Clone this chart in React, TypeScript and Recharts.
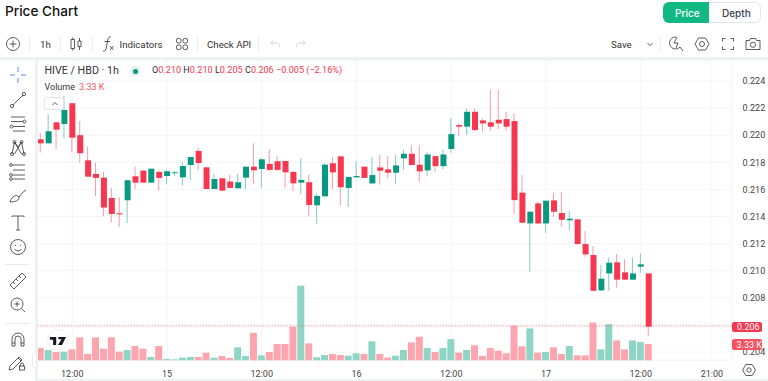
import { ComposedChart, Bar, Cell, XAxis, YAxis, CartesianGrid, ReferenceLine } from "recharts";
import type { CSSProperties, ReactNode } from "react";

// hourly candles, first one is 14th 08:00
const opens = [
  0.2197, 0.2194, 0.22095, 0.22083, 0.22236, 0.22, 0.21815, 0.21714, 0.21687, 0.21537, 0.21424, 0.2152, 0.21697,
  0.21739, 0.2165, 0.21729, 0.21699, 0.21719, 0.21689, 0.2178, 0.21884, 0.21763, 0.21603, 0.21682, 0.21658, 0.21608,
  0.21687, 0.21768, 0.21751, 0.21788, 0.21808, 0.2181, 0.21729, 0.2165, 0.21653, 0.21483, 0.21549, 0.21793, 0.21844,
  0.21611, 0.21689, 0.21768, 0.21644, 0.21762, 0.21748, 0.21723, 0.21829, 0.21863, 0.21782, 0.2174, 0.21846, 0.21772,
  0.21898, 0.22075, 0.22063, 0.22173, 0.22109, 0.22095, 0.22114, 0.22119, 0.22104, 0.21576, 0.21349, 0.21497, 0.21349,
  0.21519, 0.21426, 0.21372, 0.21379, 0.21197, 0.21116, 0.20855, 0.2098, 0.21062, 0.20988, 0.20934, 0.2103, 0.2098,
];
const closes = [
  0.2194, 0.22029, 0.22041, 0.22186, 0.21982, 0.21867, 0.21694, 0.21685, 0.21466, 0.21419, 0.21416, 0.21667, 0.2165,
  0.2165, 0.21753, 0.21685, 0.21734, 0.21726, 0.21773, 0.21839, 0.21795, 0.21603, 0.21677, 0.21591, 0.21611, 0.21653,
  0.21768, 0.21741, 0.21822, 0.21744, 0.21744, 0.21726, 0.21645, 0.2167, 0.21485, 0.21552, 0.21783, 0.21726, 0.21616,
  0.21692, 0.21699, 0.21685, 0.21706, 0.21738, 0.21723, 0.21777, 0.21863, 0.2178, 0.21733, 0.21858, 0.21772, 0.21858,
  0.22008, 0.22063, 0.22173, 0.22038, 0.22087, 0.22063, 0.22087, 0.22063, 0.21521, 0.21354, 0.21435, 0.21349, 0.21517,
  0.21435, 0.21376, 0.21384, 0.21197, 0.21121, 0.20852, 0.20941, 0.21059, 0.20934, 0.20934, 0.2098, 0.21047, 0.20587,
];
const highs = [
  0.22019, 0.22157, 0.221, 0.22292, 0.22236, 0.22105, 0.21916, 0.218, 0.21729, 0.21613, 0.21544, 0.21667, 0.21771,
  0.21739, 0.21753, 0.21744, 0.21739, 0.21736, 0.218, 0.21839, 0.21908, 0.21763, 0.21714, 0.21682, 0.21709, 0.21714,
  0.21768, 0.2194, 0.2183, 0.21899, 0.21849, 0.2181, 0.21736, 0.21832, 0.21709, 0.21571, 0.21793, 0.21839, 0.21844,
  0.21692, 0.2181, 0.21768, 0.21836, 0.21858, 0.21849, 0.21858, 0.21895, 0.21925, 0.21925, 0.21878, 0.21846, 0.21895,
  0.22127, 0.22087, 0.22198, 0.22198, 0.22124, 0.22338, 0.22338, 0.22173, 0.22161, 0.21706, 0.2144, 0.21509, 0.21517,
  0.21576, 0.21581, 0.2144, 0.21379, 0.21293, 0.21182, 0.21042, 0.21098, 0.21123, 0.21084, 0.21098, 0.21128, 0.2098,
];
const lows = [
  0.21872, 0.2194, 0.21896, 0.21977, 0.21872, 0.21798, 0.21694, 0.21549, 0.21402, 0.21355, 0.21323, 0.21352, 0.21603,
  0.2165, 0.2165, 0.21594, 0.21638, 0.21702, 0.21628, 0.2167, 0.21744, 0.21603, 0.21603, 0.21591, 0.21611, 0.21608,
  0.21603, 0.21638, 0.21613, 0.21736, 0.21736, 0.21613, 0.21589, 0.21564, 0.21402, 0.21348, 0.21549, 0.21603, 0.21483,
  0.2147, 0.21689, 0.21685, 0.21644, 0.21637, 0.21684, 0.21642, 0.21748, 0.2178, 0.21654, 0.21699, 0.21728, 0.2175,
  0.21871, 0.21996, 0.22001, 0.22033, 0.22021, 0.22033, 0.22045, 0.22033, 0.21418, 0.21354, 0.20993, 0.21349, 0.21281,
  0.21399, 0.21325, 0.213, 0.2119, 0.21103, 0.20852, 0.20848, 0.20852, 0.20877, 0.20934, 0.20934, 0.20985, 0.2052,
];
// volume in thousands
const volumes = [
  2.52, 2.11, 1.7, 1.77, 2.24, 4.69, 1.29, 4.69, 2.38, 4.69, 1.77, 2.11, 2.92, 2.38, 0.68, 2.92, 0.27, 0.2, 0.54, 0.68,
  0.68, 1.56, 0.54, 0.88, 0.48, 2.65, 0.88, 5.64, 1.02, 1.7, 3.33, 3.33, 6.87, 15.3, 3.47, 0.61, 1.09, 1.29, 1.09, 0.95,
  1.43, 1.29, 3.88, 1.29, 0.54, 0.95, 2.11, 3.67, 4.83, 2.52, 1.7, 2.52, 4.35, 1.56, 2.11, 3.06, 0.88, 2.52, 1.97, 1.43,
  7.07, 2.86, 6.53, 1.56, 1.7, 2.65, 1.29, 2.92, 1.02, 1.02, 7.75, 2.24, 7.41, 4.08, 2.24, 4.08, 3.74, 3.33,
];
const timeTicks = [4, 16, 28, 40, 52, 64, 76, 85];
const timeLabels = ["12:00", "15", "12:00", "16", "12:00", "17", "12:00", "21:00"];
const priceTicks = [0.204, 0.206, 0.208, 0.21, 0.212, 0.214, 0.216, 0.218, 0.22, 0.222, 0.224];
const lastClose = 0.20592;
const hourSlots = 88;

const RED = "#F7374F";
const GREEN = "#089981";
const INK = "#333";
const UI_FONT = "Roboto";

const rows = Array.from({ length: hourSlots }, (_, i) => ({
  hour: i,
  open: opens[i],
  close: closes[i],
  high: highs[i],
  low: lows[i],
  volume: volumes[i],
}));
type Row = (typeof rows)[number];
const isUp = (r: Row) => r.close >= r.open;

const box = (left: number, top: number, width: number, height: number, extra?: CSSProperties): CSSProperties => ({
  position: "absolute",
  left,
  top,
  width,
  height,
  boxSizing: "border-box",
  ...extra,
});

function Label({ x, y, size = 9.7, color = INK, font = UI_FONT, weight = 400, children }: {
  x: number;
  y: number;
  size?: number;
  color?: string;
  font?: string;
  weight?: number;
  children: ReactNode;
}) {
  return (
    <div
      style={{
        position: "absolute",
        left: x,
        top: y,
        transform: "translateY(-50%)",
        fontSize: size,
        color,
        fontFamily: font,
        fontWeight: weight,
        whiteSpace: "nowrap",
        lineHeight: 1,
      }}
    >
      {children}
    </div>
  );
}

function Icon({ cx, cy, color = "#333", children }: { cx: number; cy: number; color?: string; children: ReactNode }) {
  return (
    <svg
      width={24}
      height={24}
      viewBox="-12 -12 24 24"
      fill="none"
      stroke={color}
      strokeWidth={0.8}
      style={{ position: "absolute", left: cx - 12, top: cy - 12 }}
    >
      {children}
    </svg>
  );
}

function Divider({ x }: { x: number }) {
  return <div style={box(x, 36, 1, 16, { background: "#eceef2" })} />;
}

function TopBar() {
  return (
    <>
      <Label x={5} y={12} size={13.6} font="Inter" weight={500} color="#111">
        Price Chart
      </Label>
      <div style={box(663, 2, 47, 21, { background: "#10B981", borderRadius: "6px 0 0 6px" })} />
      <div style={box(709, 2, 52, 21, { border: "1px solid #e3e6ea", borderLeft: "none", borderRadius: "0 6px 6px 0", background: "#fff" })} />
      <Label x={675} y={12.5} size={10} font="Inter" weight={500} color="#fff">
        Price
      </Label>
      <Label x={722} y={12.5} size={10} font="Inter" weight={500} color="#374151">
        Depth
      </Label>

      <Icon cx={12.5} cy={44}>
        <circle r={6.5} />
        <path d="M-3.5 0H3.5M0 -3.5V3.5" />
      </Icon>
      <Divider x={29} />
      <Label x={40} y={44.5}>
        1h
      </Label>
      <Divider x={60} />
      <Icon cx={76} cy={44}>
        <path d="M-5 -4.5H-1.5V4.5H-5ZM-3.2 -6.5V-4.5M-3.2 4.5V6.5M2 -3H5V2.5H2ZM3.5 -6V-3M3.5 2.5V6" />
      </Icon>
      <Divider x={92} />
      <Icon cx={108} cy={44}>
        <path d="M3 -7C1 -7.5 0 -6 -0.5 -3L-2 5C-2.5 7 -3.5 7.5 -5 7M-3.5 -2.5H2M2 2L5.5 6M5.5 2L2 6" />
      </Icon>
      <Label x={119.5} y={44.5}>
        Indicators
      </Label>
      <Icon cx={181.5} cy={44}>
        <rect x={-5.5} y={-5.5} width={4.5} height={4.5} rx={1.5} />
        <rect x={1} y={-5.5} width={4.5} height={4.5} rx={1.5} />
        <rect x={-5.5} y={1} width={4.5} height={4.5} rx={1.5} />
        <rect x={1} y={1} width={4.5} height={4.5} rx={1.5} />
      </Icon>
      <Divider x={197} />
      <Label x={207} y={44.5}>
        Check API
      </Label>
      <Divider x={258} />
      <Icon cx={274.5} cy={44} color="#c8cbd0">
        <path d="M-4 -1H2C4 -1 4.5 1 4.5 3M-4 -1L-1.5 -3.5M-4 -1L-1.5 1.5" />
      </Icon>
      <Icon cx={300.5} cy={44} color="#c8cbd0">
        <path d="M4 -1H-2C-4 -1 -4.5 1 -4.5 3M4 -1L1.5 -3.5M4 -1L1.5 1.5" />
      </Icon>

      <Label x={611} y={44.5}>
        Save
      </Label>
      <Icon cx={650} cy={44}>
        <path d="M-2.5 -1L0 1.5L2.5 -1" />
      </Icon>
      <Divider x={660} />
      <Icon cx={676} cy={44}>
        <path d="M0 -7A6 6 0 1 0 4 3L7 7M1 -7L-2 -1H2L0 4" />
      </Icon>
      <Icon cx={702} cy={44}>
        <path d="M-3.5 -6H3.5L7 0L3.5 6H-3.5L-7 0Z" />
        <circle r={2.5} />
      </Icon>
      <Icon cx={728} cy={44}>
        <path d="M-5.5 -2.5V-5.5H-2.5M2.5 -5.5H5.5V-2.5M5.5 2.5V5.5H2.5M-2.5 5.5H-5.5V2.5" />
      </Icon>
      <Icon cx={753} cy={44}>
        <path d="M-7 -3.5H-3.5L-2.5 -5.5H2.5L3.5 -3.5H7V5.5H-7Z" />
        <circle cy={0.8} r={2.6} />
      </Icon>

      <div style={box(0, 57, 768, 2.5, { background: "#eff0f2" })} />
      <div style={box(35, 59, 2.5, 322, { background: "#eff0f2" })} />
      <div style={box(37, 378.5, 731, 2.5, { background: "#eff0f2" })} />
    </>
  );
}

function SideBar() {
  return (
    <>
      <Icon cx={18} cy={75} color="#2f6fed">
        <path d="M-8 0H-3M3 0H8M0 -8V-3M0 3V8" />
      </Icon>
      <Icon cx={18} cy={100}>
        <circle cx={-6} cy={6} r={1.6} />
        <circle cx={6} cy={-6} r={1.6} />
        <path d="M-5 5L5 -5" />
      </Icon>
      <Icon cx={18} cy={124}>
        <path d="M-7 -7H7M-7 -2.5H5M-5 2.5H7M-5 7H7" />
        <circle cx={6.5} cy={-2.5} r={1.5} />
        <circle cx={-6.5} cy={2.5} r={1.5} />
      </Icon>
      <Icon cx={18} cy={148}>
        <path d="M-6 6L-3.5 -6L0 -1L3.5 -6L6 6M-3.5 -6L3.5 6M3.5 -6L-3.5 6" />
        <circle cx={-6} cy={6} r={1.5} />
        <circle cx={-3.5} cy={-6} r={1.5} />
        <circle cx={3.5} cy={-6} r={1.5} />
        <circle cx={6} cy={6} r={1.5} />
      </Icon>
      <Icon cx={18} cy={172}>
        <path d="M-5 -7H7M-5 -2H7M-5 3H7M-5 7H7" />
        <circle cx={-7} cy={-7} r={1.4} />
        <circle cx={-7} cy={3} r={1.4} />
        <circle cx={-7} cy={7} r={1.4} />
      </Icon>
      <Icon cx={18} cy={196}>
        <path d="M-8 6C-6 0 -2 -2 1 1C2 4 -3 6 -8 6ZM1 1C3 -1 5 -5 8 -6" />
      </Icon>
      <Icon cx={18} cy={223}>
        <path d="M-6 -6V-7H6V-6M0 -7V7M-2 7H2" />
      </Icon>
      <Icon cx={18} cy={247}>
        <circle r={7.5} />
        <path d="M-3.5 2C-2 4.5 2 4.5 3.5 2M-2.5 -2V-1M2.5 -2V-1" />
      </Icon>
      <div style={box(5, 264, 25, 1, { background: "#e8eaee" })} />
      <Icon cx={18} cy={281}>
        <path d="M-8 4L4 -8L8 -4L-4 8ZM-5 1L-3 3M-2 -2L0 0M1 -5L3 -3" />
      </Icon>
      <Icon cx={18} cy={305}>
        <circle cx={-1} cy={-1} r={6} />
        <path d="M3.5 3.5L7 7M-3.5 -1H1.5M-1 -3.5V1.5" />
      </Icon>
      <div style={box(5, 323, 25, 1, { background: "#e8eaee" })} />
      <Icon cx={18} cy={339}>
        <path d="M-6 7V0A6 6 0 0 1 6 0V7H3V0A3 3 0 0 0 -3 0V7ZM-6 4H-3M3 4H6" />
      </Icon>
      <Icon cx={16} cy={363}>
        <path d="M-7 7L-6 3L3 -6L6 -3L-3 6ZM2 -5L5 -2" />
      </Icon>
      <Icon cx={22} cy={366}>
        <rect x={-2.5} y={0} width={5} height={4} fill="#fff" />
        <path d="M-1.5 0V-1.5A1.5 1.5 0 0 1 1.5 -1.5V0" />
      </Icon>
      <div style={box(32, 352, 5, 16, { background: "#fff", border: "1px solid #eceef2", borderRadius: 3 })} />
    </>
  );
}

function Legend() {
  return (
    <>
      <Label x={44.5} y={71} size={10.7}>
        HIVE / HBD · 1h
      </Label>
      <div style={box(130, 66, 10, 10, { background: "#dff1ec", borderRadius: "50%" })} />
      <div style={box(132.5, 68.5, 5, 5, { background: GREEN, borderRadius: "50%" })} />
      <Label x={152} y={71} size={9.1}>
        O<span style={{ color: RED }}>0.210</span> H<span style={{ color: RED }}>0.210</span> L
        <span style={{ color: RED }}>0.205</span> C<span style={{ color: RED }}>0.206</span>{" "}
        <span style={{ color: RED }}>−0.005 (−2.16%)</span>
      </Label>
      <Label x={44.5} y={87} size={9}>
        Volume
      </Label>
      <Label x={79} y={87} size={9} color="#F7525F">
        3.33 K
      </Label>
      <div style={box(44, 97, 20, 13, { border: "1px solid #e0e3eb", borderRadius: 3, background: "rgba(255,255,255,0.85)" })} />
      <Icon cx={54.5} cy={104}>
        <path d="M-2.5 1L0 -1.5L2.5 1" />
      </Icon>
    </>
  );
}

function PriceTags() {
  return (
    <>
      <div style={box(732, 321.5, 30, 10.5, { background: RED, borderRadius: 2 })} />
      <Label x={737} y={327} size={9} color="#fff">
        0.206
      </Label>
      <div style={box(732, 339, 30, 11, { background: "#F7525F", borderRadius: 2 })} />
      <Label x={736.5} y={345} size={9} color="#fff">
        3.33 K
      </Label>
      <div style={box(47, 329, 22, 22, { background: "rgba(255,255,255,0.85)", border: "1px solid #f0f1f3", borderRadius: "50%" })} />
      <svg width={16} height={8} viewBox="0 0 36 18" style={{ position: "absolute", left: 50, top: 337 }} fill="#131722">
        <path d="M0 0H14V18H7V6H0ZM19 0H36L27 18H18L26 5H19Z" />
      </svg>
      <Icon cx={749} cy={370}>
        <path d="M-3.2 -5.5H3.2L6.4 0L3.2 5.5H-3.2L-6.4 0Z" />
        <circle r={2.2} />
      </Icon>
    </>
  );
}

export default function App() {
  return (
    <div style={box(0, 0, 768, 381, { background: "#fff", overflow: "hidden" })}>
      <ComposedChart
        width={768}
        height={381}
        data={rows}
        margin={{ top: 60, right: 0, bottom: 0, left: 36.75 }}
        style={{ position: "absolute", left: 0, top: 0 }}
      >
        <CartesianGrid stroke="#f3f4f6" xAxisId="body" yAxisId="price" />
        <XAxis
          xAxisId="body"
          dataKey="hour"
          type="category"
          ticks={timeTicks}
          interval={0}
          height={20.7}
          tickFormatter={(v: number) => timeLabels[timeTicks.indexOf(v)]}
          tick={{ fontSize: 9, fill: "#444", fontFamily: UI_FONT }}
          tickLine={false}
          axisLine={false}
          tickMargin={4}
        />
        <XAxis xAxisId="wick" dataKey="hour" type="category" hide />
        <XAxis xAxisId="vol" dataKey="hour" type="category" hide />
        <YAxis
          yAxisId="price"
          orientation="right"
          width={36.4}
          domain={[0.20339, 0.22555]}
          ticks={priceTicks}
          interval={0}
          // the 0.206 tick sits under the last price tag
          tickFormatter={(v: number) => (v === 0.206 ? "" : v.toFixed(3))}
          tick={{ fontSize: 9, fill: "#444", fontFamily: UI_FONT }}
          tickLine={false}
          axisLine={false}
          tickMargin={5}
        />
        <YAxis yAxisId="volume" hide domain={[0, 61.5]} />
        <Bar xAxisId="vol" yAxisId="volume" dataKey="volume" barSize={7} isAnimationActive={false}>
          {rows.map((r) => (
            <Cell key={r.hour} fill={r.open !== undefined && isUp(r) ? "#8ED5C5" : "#FCA5AE"} />
          ))}
        </Bar>
        <ReferenceLine yAxisId="price" xAxisId="body" y={lastClose} stroke="#F7374F" strokeOpacity={0.7} strokeDasharray="1 2" />
        <Bar
          xAxisId="wick"
          yAxisId="price"
          dataKey={(r: Row) => (r.high === undefined ? null : [r.low, r.high])}
          barSize={1}
          fillOpacity={0.5}
          isAnimationActive={false}
        >
          {rows.map((r) => (
            <Cell key={r.hour} fill={r.open !== undefined && isUp(r) ? GREEN : RED} />
          ))}
        </Bar>
        <Bar
          xAxisId="body"
          yAxisId="price"
          dataKey={(r: Row) => (r.open === undefined ? null : [Math.min(r.open, r.close), Math.max(r.open, r.close)])}
          barSize={6}
          isAnimationActive={false}
        >
          {rows.map((r) => (
            <Cell key={r.hour} fill={r.open !== undefined && isUp(r) ? GREEN : RED} />
          ))}
        </Bar>
      </ComposedChart>
      <TopBar />
      <SideBar />
      <Legend />
      <PriceTags />
    </div>
  );
}
